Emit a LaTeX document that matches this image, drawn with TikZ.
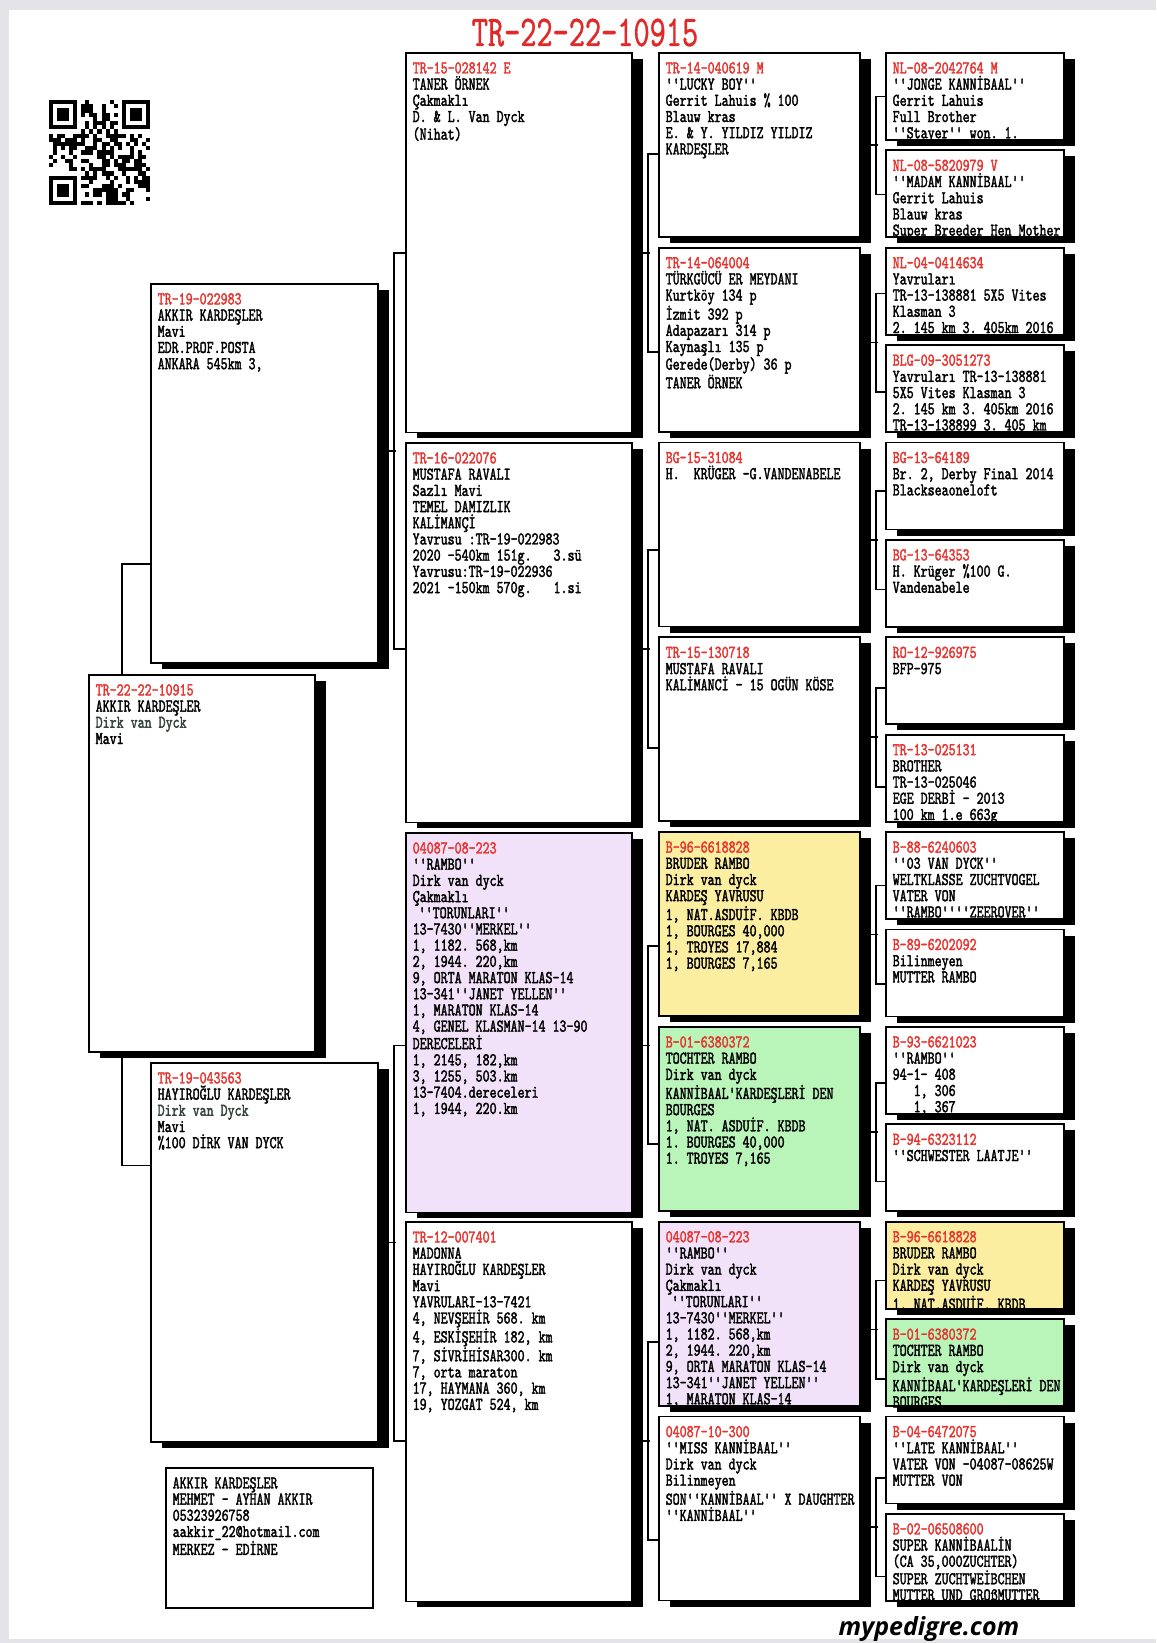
\documentclass[tikz,border=0pt]{standalone}
\usepackage{fontspec}
\usetikzlibrary{shadows,backgrounds}
\newfontfamily\pedfont[Extension=.otf,FakeStretch=0.74,FakeBold=1.8,Ligatures=TeXOff]{lmmono10-regular}
\newfontfamily\titlefont[Extension=.otf,FakeStretch=0.7,FakeBold=0.8,Ligatures=TeXOff]{lmmono10-regular}
\newfontfamily\webfont{Open Sans}
\definecolor{idred}{HTML}{E8332E}
\definecolor{titlered}{HTML}{E02A2A}
\definecolor{dvd}{HTML}{34423A}
\definecolor{lilac}{HTML}{F1E2F9}
\definecolor{straw}{HTML}{FBEEA0}
\definecolor{mint}{HTML}{B9F4B9}
\definecolor{pagegray}{HTML}{E4E4E8}
% box: name, style, top left, ring number, lines
\newcommand{\pedbox}[5]{%
  \node[#2] (#1) at (#3) {};
  \begin{scope}
    \clip (#1.south west) rectangle (#1.north east);
    \node[txt] (#1t) at (#1.north west) {\textcolor{idred}{#4}\\#5};
  \end{scope}}

\begin{document}
\frenchspacing
\begin{tikzpicture}[x=1pt, y=-1pt,
  box/.style={draw, line width=1.8pt, fill=white, anchor=north west, inner sep=0pt,
    drop shadow={shadow xshift=11pt, shadow yshift=-6pt, fill=black, opacity=1}},
  gen0/.style={box, minimum width=226pt, minimum height=377pt},
  gen1/.style={box, minimum width=227pt, minimum height=379pt},
  gen2/.style={box, minimum width=226pt, minimum height=379.5pt},
  gen3/.style={box, minimum width=201pt, minimum height=184pt},
  gen4/.style={box, minimum width=178pt, minimum height=87pt},
  txt/.style={anchor=north west, align=left, inner xsep=7.5pt, inner ysep=0pt, yshift=-10pt,
    font=\pedfont\fontsize{18}{16.2}\selectfont},
  link/.style={line width=1.6pt},
]
  \useasboundingbox (0,0) rectangle (1156,1643);

  % QR code
  \begin{scope}[shift={(49,100)}, x=4.04pt, y=-4.2pt]
    \pgfmathsetseed{2024}
    \foreach \i in {0,...,24}{
      \foreach \j in {0,...,24}{
        \pgfmathtruncatemacro\qa{(\i<8 && \j<8) || (\i>16 && \j<8) || (\i<8 && \j>16)}
        \pgfmathtruncatemacro\qb{rnd<0.5}
        \ifnum\qa=0 \ifnum\qb=1 \fill (\i,\j) rectangle ++(1,1); \fi\fi
      }}
    \foreach \p in {(0,0),(18,0),(0,18)}{
      \fill \p rectangle ++(7,7);
      \fill[white] \p ++(1,1) rectangle ++(5,5);
      \fill \p ++(2,2) rectangle ++(3,3);
    }
  \end{scope}

  \node[anchor=base, text=titlered, font=\titlefont\fontsize{44}{44}\selectfont] (title) at (585,46) {TR-22-22-10915};

  % pigeon and parents
  \pedbox{r}{gen0}{88,674}{TR-22-22-10915}{AKKIR KARDEŞLER\\\textcolor{dvd}{Dirk van Dyck}\\Mavi}
  \pedbox{s}{gen1}{150,283}{TR-19-022983}{AKKIR KARDEŞLER\\Mavi\\EDR.PROF.POSTA\\ANKARA 545km 3,}
  \pedbox{d}{gen1}{150,1062}{TR-19-043563}{HAYIROĞLU KARDEŞLER\\\textcolor{dvd}{Dirk van Dyck}\\Mavi\\\%100 DİRK VAN DYCK}

  % grandparents
  \pedbox{ss}{gen2}{405,52}{TR-15-028142 E}{TANER ÖRNEK\\Çakmaklı\\D. \& L. Van Dyck\\(Nihat)}
  \pedbox{sd}{gen2}{405,442}{TR-16-022076}{MUSTAFA RAVALI\\Sazlı Mavi\\TEMEL DAMIZLIK\\KALİMANÇİ\\Yavrusu :TR-19-022983\\2020 -540km 151g.\hspace{22pt}3.sü\\Yavrusu:TR-19-022936\\2021 -150km 570g.\hspace{22pt}1.si}
  \pedbox{ds}{gen2,fill=lilac}{405,832}{04087-08-223}{''RAMBO''\\Dirk van dyck\\Çakmaklı\\\hspace*{6pt}''TORUNLARI''\\13-7430''MERKEL''\\1, 1182. 568,km\\2, 1944. 220,km\\9, ORTA MARATON KLAS-14\\13-341''JANET YELLEN''\\1, MARATON KLAS-14\\4, GENEL KLASMAN-14 13-90\\DERECELERİ\\1, 2145, 182,km\\3, 1255, 503.km\\13-7404.dereceleri\\1, 1944, 220.km}
  \pedbox{dd}{gen2}{405,1221}{TR-12-007401}{MADONNA\\HAYIROĞLU KARDEŞLER\\Mavi\\YAVRULARI-13-7421\\4, NEVŞEHİR 568. km\\4, ESKİŞEHİR 182, km\\7, SİVRİHİSAR300. km\\7, orta maraton\\17, HAYMANA 360, km\\19, YOZGAT 524, km}

  % great-grandparents
  \pedbox{sss}{gen3}{658,52}{TR-14-040619 M}{''LUCKY BOY''\\Gerrit Lahuis \% 100\\Blauw kras\\E. \& Y. YILDIZ YILDIZ\\KARDEŞLER}
  \pedbox{ssd}{gen3}{658,246.8}{TR-14-064004}{TÜRKGÜCÜ ER MEYDANI\\Kurtköy 134 p\\İzmit 392 p\\Adapazarı 314 p\\Kaynaşlı 135 p\\Gerede(Derby) 36 p\\TANER ÖRNEK}
  \pedbox{sds}{gen3}{658,441.6}{BG-15-31084}{H.\ \ KRÜGER -G.VANDENABELE}
  \pedbox{sdd}{gen3}{658,636.4}{TR-15-130718}{MUSTAFA RAVALI\\KALİMANCİ - 15 OGÜN KÖSE}
  \pedbox{dss}{gen3,fill=straw}{658,831.2}{B-96-6618828}{BRUDER RAMBO\\Dirk van dyck\\KARDEŞ YAVRUSU\\1, NAT.ASDUİF. KBDB\\1, BOURGES 40,000\\1, TROYES 17,884\\1, BOURGES 7,165}
  \pedbox{dsd}{gen3,fill=mint}{658,1026}{B-01-6380372}{TOCHTER RAMBO\\Dirk van dyck\\KANNİBAAL'KARDEŞLERİ DEN\\BOURGES\\1, NAT. ASDUİF. KBDB\\1. BOURGES 40,000\\1. TROYES 7,165}
  \pedbox{dds}{gen3,fill=lilac}{658,1220.8}{04087-08-223}{''RAMBO''\\Dirk van dyck\\Çakmaklı\\\hspace*{6pt}''TORUNLARI''\\13-7430''MERKEL''\\1, 1182. 568,km\\2, 1944. 220,km\\9, ORTA MARATON KLAS-14\\13-341''JANET YELLEN''\\1, MARATON KLAS-14}
  \pedbox{ddd}{gen3}{658,1415.6}{04087-10-300}{''MISS KANNİBAAL''\\Dirk van dyck\\Bilinmeyen\\SON''KANNİBAAL'' X DAUGHTER\\''KANNİBAAL''}

  % great-great-grandparents
  \pedbox{ssss}{gen4}{885,52}{NL-08-2042764 M}{''JONGE KANNİBAAL''\\Gerrit Lahuis\\Full Brother\\''Stayer'' won. 1.}
  \pedbox{sssd}{gen4}{885,149.4}{NL-08-5820979 V}{''MADAM KANNİBAAL''\\Gerrit Lahuis\\Blauw kras\\Super Breeder Hen Mother}
  \pedbox{ssds}{gen4}{885,246.8}{NL-04-0414634}{Yavruları\\TR-13-138881 5X5 Vites\\Klasman 3\\2. 145 km 3. 405km 2016}
  \pedbox{ssdd}{gen4}{885,344.2}{BLG-09-3051273}{Yavruları TR-13-138881\\5X5 Vites Klasman 3\\2. 145 km 3. 405km 2016\\TR-13-138899 3. 405 km}
  \pedbox{sdss}{gen4}{885,441.6}{BG-13-64189}{Br. 2, Derby Final 2014\\Blackseaoneloft}
  \pedbox{sdsd}{gen4}{885,539}{BG-13-64353}{H. Krüger \%100 G.\\Vandenabele}
  \pedbox{sdds}{gen4}{885,636.4}{RO-12-926975}{BFP-975}
  \pedbox{sddd}{gen4}{885,733.8}{TR-13-025131}{BROTHER\\TR-13-025046\\EGE DERBİ - 2013\\100 km 1.e 663g}
  \pedbox{dsss}{gen4}{885,831.2}{B-88-6240603}{''03 VAN DYCK''\\WELTKLASSE ZUCHTVOGEL\\VATER VON\\''RAMBO''''ZEEROVER''}
  \pedbox{dssd}{gen4}{885,928.6}{B-89-6202092}{Bilinmeyen\\MUTTER RAMBO}
  \pedbox{dsds}{gen4}{885,1026}{B-93-6621023}{''RAMBO''\\94-1- 408\\\hspace*{21pt}1, 306\\\hspace*{21pt}1, 367}
  \pedbox{dsdd}{gen4}{885,1123.4}{B-94-6323112}{''SCHWESTER LAATJE''}
  \pedbox{ddss}{gen4,fill=straw}{885,1220.8}{B-96-6618828}{BRUDER RAMBO\\Dirk van dyck\\KARDEŞ YAVRUSU\\1, NAT.ASDUİF. KBDB}
  \pedbox{ddsd}{gen4,fill=mint}{885,1318.2}{B-01-6380372}{TOCHTER RAMBO\\Dirk van dyck\\KANNİBAAL'KARDEŞLERİ DEN\\BOURGES}
  \pedbox{ddds}{gen4}{885,1415.6}{B-04-6472075}{''LATE KANNİBAAL''\\VATER VON -04087-08625W\\MUTTER VON}
  \pedbox{dddd}{gen4}{885,1513}{B-02-06508600}{SUPER KANNİBAALİN\\(CA 35,000ZUCHTER)\\SUPER ZUCHTWEİBCHEN\\MUTTER UND GROßMUTTER}

  % owner
  \node[draw, line width=1.8pt, anchor=north west, minimum width=207pt, minimum height=140pt] (owner) at (165,1467) {};
  \node[txt] (ownert) at (owner.north west) {AKKIR KARDEŞLER\\MEHMET - AYHAN AKKIR\\05323926758\\aakkir\_22@hotmail.com\\MERKEZ - EDİRNE};

  \node[anchor=base, font=\webfont\bfseries\itshape\fontsize{25}{25}\selectfont] (web) at (929,1635) {mypedigre.com};

  \begin{pgfonlayer}{background}
    \fill[pagegray] (0,0) rectangle (1156,1643);
    \fill[white] (9,10) rectangle (1156,1639);
    % connectors
    \draw[link] ([yshift=-90.5pt]s.west) -- ++(-28,0) |- ([yshift=87pt]d.west);
    \draw[link] ([yshift=22.5pt]s.east) -- ++(17,0);
    \draw[link] ([yshift=-10.25pt]ss.west) -- ++(-11,0) |- ([yshift=-16.5pt]sd.west);
    \draw[link] ([yshift=10pt]d.east) -- ++(17,0);
    \draw[link] ([yshift=-22.75pt]ds.west) -- ++(-11,0) |- ([yshift=-29.25pt]dd.west);

    \draw[link] ([yshift=-10.25pt]ss.east) -- ++(17,0);
    \draw[link] ([yshift=-9pt]sss.west) -- ++(-10,0) |- ([yshift=-12.2pt]ssd.west);
    \draw[link] ([yshift=-16.5pt]sd.east) -- ++(17,0);
    \draw[link] ([yshift=-15.4pt]sds.west) -- ++(-10,0) |- ([yshift=-18.6pt]sdd.west);
    \draw[link] ([yshift=-22.75pt]ds.east) -- ++(17,0);
    \draw[link] ([yshift=-21.8pt]dss.west) -- ++(-10,0) |- ([yshift=-25pt]dsd.west);
    \draw[link] ([yshift=-29.25pt]dd.east) -- ++(17,0);
    \draw[link] ([yshift=-28.2pt]dds.west) -- ++(-10,0) |- ([yshift=-31.4pt]ddd.west);

    \draw[link] ([yshift=-0.4pt]sss.east) -- ++(17,0);
    \draw[link] (ssss.west) -- ++(-9,0) |- ([yshift=-0.8pt]sssd.west);
    \draw[link] ([yshift=-2.75pt]ssd.east) -- ++(17,0);
    \draw[link] ([yshift=-2.1pt]ssds.west) -- ++(-9,0) |- ([yshift=-3.4pt]ssdd.west);
    \draw[link] ([yshift=-5.35pt]sds.east) -- ++(17,0);
    \draw[link] ([yshift=-4.7pt]sdss.west) -- ++(-9,0) |- ([yshift=-6pt]sdsd.west);
    \draw[link] ([yshift=-7.95pt]sdd.east) -- ++(17,0);
    \draw[link] ([yshift=-7.3pt]sdds.west) -- ++(-9,0) |- ([yshift=-8.6pt]sddd.west);
    \draw[link] ([yshift=-10.55pt]dss.east) -- ++(17,0);
    \draw[link] ([yshift=-9.9pt]dsss.west) -- ++(-9,0) |- ([yshift=-11.2pt]dssd.west);
    \draw[link] ([yshift=-13.15pt]dsd.east) -- ++(17,0);
    \draw[link] ([yshift=-12.5pt]dsds.west) -- ++(-9,0) |- ([yshift=-13.8pt]dsdd.west);
    \draw[link] ([yshift=-15.75pt]dds.east) -- ++(17,0);
    \draw[link] ([yshift=-15.1pt]ddss.west) -- ++(-9,0) |- ([yshift=-16.4pt]ddsd.west);
    \draw[link] ([yshift=-18.35pt]ddd.east) -- ++(17,0);
    \draw[link] ([yshift=-17.7pt]ddds.west) -- ++(-9,0) |- ([yshift=-19pt]dddd.west);
  \end{pgfonlayer}
\end{tikzpicture}
\end{document}
